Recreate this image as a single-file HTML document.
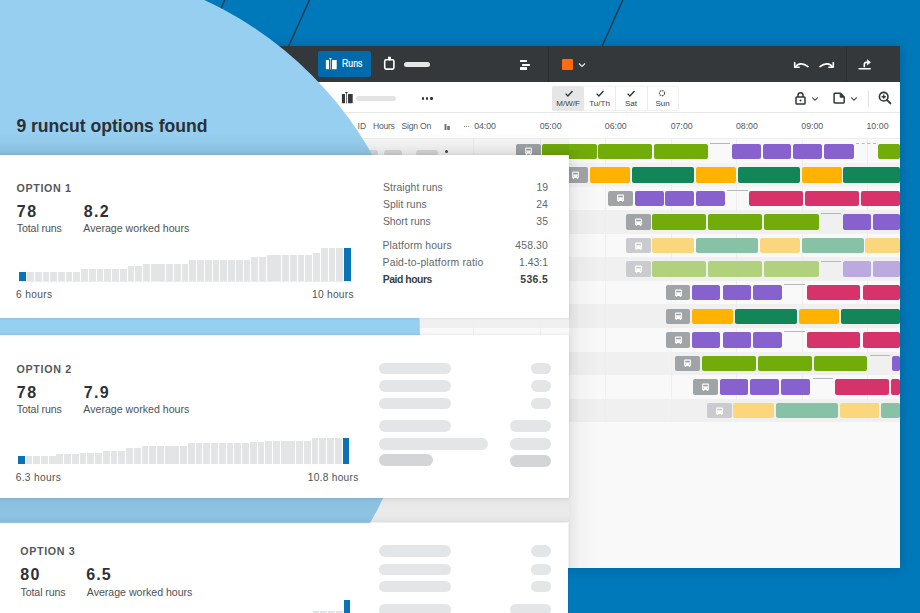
<!DOCTYPE html>
<html><head><meta charset="utf-8"><style>
html,body{margin:0;padding:0;}
body{width:920px;height:613px;position:relative;overflow:hidden;background:#0079ba;font-family:"Liberation Sans", sans-serif;}
.b,.t,.ic{position:absolute;}
.t{white-space:nowrap;}
</style></head><body>
<svg style="position:absolute;left:0;top:0" width="920" height="613" viewBox="0 0 920 613"><path d="M224.7 0L203 52M309.5 0L286 52M622.8 0L599.5 52" stroke="#1d3d56" stroke-width="1.6"/></svg>
<div class="b" style="left:230px;top:46px;width:670.2px;height:522.3px;background:#f9f9f9;box-shadow:0 0 12px rgba(0,20,50,.22);"></div>
<div class="b" style="left:230px;top:46px;width:670.2px;height:36px;background:#34383b;"></div>
<div class="b" style="left:230px;top:82px;width:670.2px;height:30.5px;background:#fff;"></div>
<div class="b" style="left:230px;top:112.2px;width:670.2px;height:0.8px;background:#e8e8e8;"></div>
<div class="b" style="left:230px;top:113px;width:670.2px;height:24.5px;background:#fff;"></div>
<div class="b" style="left:230px;top:137.6px;width:670.2px;height:1.9px;background:#eeeeee;"></div>
<div class="b" style="left:230px;top:139.5px;width:670.2px;height:23.56px;background:#f9f9f9;"></div>
<div class="b" style="left:230px;top:163.06px;width:670.2px;height:23.56px;background:#f3f3f3;"></div>
<div class="b" style="left:230px;top:186.62px;width:670.2px;height:23.56px;background:#f9f9f9;"></div>
<div class="b" style="left:230px;top:210.18px;width:670.2px;height:23.56px;background:#f0f0f0;"></div>
<div class="b" style="left:230px;top:233.74px;width:670.2px;height:23.56px;background:#f9f9f9;"></div>
<div class="b" style="left:230px;top:257.3px;width:670.2px;height:23.56px;background:#f0f0f0;"></div>
<div class="b" style="left:230px;top:280.86px;width:670.2px;height:23.56px;background:#f9f9f9;"></div>
<div class="b" style="left:230px;top:304.42px;width:670.2px;height:23.56px;background:#f0f0f0;"></div>
<div class="b" style="left:230px;top:327.98px;width:670.2px;height:23.56px;background:#f9f9f9;"></div>
<div class="b" style="left:230px;top:351.54px;width:670.2px;height:23.56px;background:#f0f0f0;"></div>
<div class="b" style="left:230px;top:375.1px;width:670.2px;height:23.56px;background:#f9f9f9;"></div>
<div class="b" style="left:230px;top:398.66px;width:670.2px;height:23.56px;background:#f0f0f0;"></div>
<div class="b" style="left:473.25px;top:137.5px;width:1px;height:284.7px;background:#eeeeee;"></div>
<div class="b" style="left:539.9px;top:137.5px;width:1px;height:284.7px;background:#eeeeee;"></div>
<div class="b" style="left:605px;top:137.5px;width:1px;height:284.7px;background:#eeeeee;"></div>
<div class="b" style="left:670.5px;top:137.5px;width:1px;height:284.7px;background:#eeeeee;"></div>
<div class="b" style="left:736px;top:137.5px;width:1px;height:284.7px;background:#eeeeee;"></div>
<div class="b" style="left:801.5px;top:137.5px;width:1px;height:284.7px;background:#eeeeee;"></div>
<div class="b" style="left:867px;top:137.5px;width:1px;height:284.7px;background:#eeeeee;"></div>
<div class="b" style="left:515.7px;top:143.6px;width:25.6px;height:15.5px;background:#a0a4a7;border-radius:2px"><svg width="7" height="8" viewBox="0 0 7 8" style="position:absolute;left:50%;top:50%;margin:-4px 0 0 -3.3px"><path d="M1 0.4h5a.9.9 0 0 1 .9.9v5.2a.5.5 0 0 1-.5.5H.6a.5.5 0 0 1-.5-.5V1.3A.9.9 0 0 1 1 .4z" fill="#fff"/><rect x="1.1" y="1.7" width="4.8" height="1.7" fill="#a0a4a7"/><rect x=".8" y="6.8" width="1.4" height="1.1" fill="#fff"/><rect x="4.8" y="6.8" width="1.4" height="1.1" fill="#fff"/><rect x="1" y="4.7" width="1" height=".7" fill="#a0a4a7"/><rect x="5" y="4.7" width="1" height=".7" fill="#a0a4a7"/></svg></div>
<div class="b" style="left:542.4px;top:143.6px;width:54.3px;height:15.5px;background:#72ac0a;border-radius:2px;"></div>
<div class="b" style="left:598.3px;top:143.6px;width:53.9px;height:15.5px;background:#72ac0a;border-radius:2px;"></div>
<div class="b" style="left:653.9px;top:143.6px;width:53.7px;height:15.5px;background:#72ac0a;border-radius:2px;"></div>
<div class="b" style="left:710px;top:142.7px;width:20.4px;height:1.1px;background:#b5b8ba;"></div>
<div class="b" style="left:732px;top:143.6px;width:28.8px;height:15.5px;background:#8762cf;border-radius:2px;"></div>
<div class="b" style="left:762.7px;top:143.6px;width:28.6px;height:15.5px;background:#8762cf;border-radius:2px;"></div>
<div class="b" style="left:793.2px;top:143.6px;width:29.3px;height:15.5px;background:#8762cf;border-radius:2px;"></div>
<div class="b" style="left:824.4px;top:143.6px;width:29.2px;height:15.5px;background:#8762cf;border-radius:2px;"></div>
<div class="b" style="left:856px;top:142.6px;width:19.7px;height:0;border-top:1.3px dashed #b9bbbd"></div>
<div class="b" style="left:877.6px;top:143.6px;width:22.6px;height:15.5px;background:#72ac0a;border-radius:2px;"></div>
<div class="b" style="left:562px;top:167.16px;width:26px;height:15.5px;background:#a0a4a7;border-radius:2px"><svg width="7" height="8" viewBox="0 0 7 8" style="position:absolute;left:50%;top:50%;margin:-4px 0 0 -3.3px"><path d="M1 0.4h5a.9.9 0 0 1 .9.9v5.2a.5.5 0 0 1-.5.5H.6a.5.5 0 0 1-.5-.5V1.3A.9.9 0 0 1 1 .4z" fill="#fff"/><rect x="1.1" y="1.7" width="4.8" height="1.7" fill="#a0a4a7"/><rect x=".8" y="6.8" width="1.4" height="1.1" fill="#fff"/><rect x="4.8" y="6.8" width="1.4" height="1.1" fill="#fff"/><rect x="1" y="4.7" width="1" height=".7" fill="#a0a4a7"/><rect x="5" y="4.7" width="1" height=".7" fill="#a0a4a7"/></svg></div>
<div class="b" style="left:589.7px;top:167.16px;width:39.9px;height:15.5px;background:#ffb300;border-radius:2px;"></div>
<div class="b" style="left:631.5px;top:167.16px;width:62.4px;height:15.5px;background:#128658;border-radius:2px;"></div>
<div class="b" style="left:695.8px;top:167.16px;width:39.9px;height:15.5px;background:#ffb300;border-radius:2px;"></div>
<div class="b" style="left:737.6px;top:167.16px;width:62px;height:15.5px;background:#128658;border-radius:2px;"></div>
<div class="b" style="left:801.5px;top:167.16px;width:40px;height:15.5px;background:#ffb300;border-radius:2px;"></div>
<div class="b" style="left:843.4px;top:167.16px;width:56.8px;height:15.5px;background:#128658;border-radius:2px;"></div>
<div class="b" style="left:608.3px;top:190.72px;width:24.7px;height:15.5px;background:#a0a4a7;border-radius:2px"><svg width="7" height="8" viewBox="0 0 7 8" style="position:absolute;left:50%;top:50%;margin:-4px 0 0 -3.3px"><path d="M1 0.4h5a.9.9 0 0 1 .9.9v5.2a.5.5 0 0 1-.5.5H.6a.5.5 0 0 1-.5-.5V1.3A.9.9 0 0 1 1 .4z" fill="#fff"/><rect x="1.1" y="1.7" width="4.8" height="1.7" fill="#a0a4a7"/><rect x=".8" y="6.8" width="1.4" height="1.1" fill="#fff"/><rect x="4.8" y="6.8" width="1.4" height="1.1" fill="#fff"/><rect x="1" y="4.7" width="1" height=".7" fill="#a0a4a7"/><rect x="5" y="4.7" width="1" height=".7" fill="#a0a4a7"/></svg></div>
<div class="b" style="left:635px;top:190.72px;width:28.5px;height:15.5px;background:#8762cf;border-radius:2px;"></div>
<div class="b" style="left:665.4px;top:190.72px;width:28.5px;height:15.5px;background:#8762cf;border-radius:2px;"></div>
<div class="b" style="left:695.8px;top:190.72px;width:29.7px;height:15.5px;background:#8762cf;border-radius:2px;"></div>
<div class="b" style="left:727.4px;top:189.82px;width:20.9px;height:1.1px;background:#b5b8ba;"></div>
<div class="b" style="left:749.4px;top:190.72px;width:54px;height:15.5px;background:#d6336b;border-radius:2px;"></div>
<div class="b" style="left:805.3px;top:190.72px;width:54.1px;height:15.5px;background:#d6336b;border-radius:2px;"></div>
<div class="b" style="left:861.3px;top:190.72px;width:38.9px;height:15.5px;background:#d6336b;border-radius:2px;"></div>
<div class="b" style="left:625.8px;top:214.28px;width:25.5px;height:15.5px;background:#a0a4a7;border-radius:2px"><svg width="7" height="8" viewBox="0 0 7 8" style="position:absolute;left:50%;top:50%;margin:-4px 0 0 -3.3px"><path d="M1 0.4h5a.9.9 0 0 1 .9.9v5.2a.5.5 0 0 1-.5.5H.6a.5.5 0 0 1-.5-.5V1.3A.9.9 0 0 1 1 .4z" fill="#fff"/><rect x="1.1" y="1.7" width="4.8" height="1.7" fill="#a0a4a7"/><rect x=".8" y="6.8" width="1.4" height="1.1" fill="#fff"/><rect x="4.8" y="6.8" width="1.4" height="1.1" fill="#fff"/><rect x="1" y="4.7" width="1" height=".7" fill="#a0a4a7"/><rect x="5" y="4.7" width="1" height=".7" fill="#a0a4a7"/></svg></div>
<div class="b" style="left:652.4px;top:214.28px;width:54px;height:15.5px;background:#72ac0a;border-radius:2px;"></div>
<div class="b" style="left:708.3px;top:214.28px;width:54.1px;height:15.5px;background:#72ac0a;border-radius:2px;"></div>
<div class="b" style="left:764.3px;top:214.28px;width:54.3px;height:15.5px;background:#72ac0a;border-radius:2px;"></div>
<div class="b" style="left:820.6px;top:213.38px;width:20.9px;height:1.1px;background:#b5b8ba;"></div>
<div class="b" style="left:842.6px;top:214.28px;width:28.5px;height:15.5px;background:#8762cf;border-radius:2px;"></div>
<div class="b" style="left:873px;top:214.28px;width:27.2px;height:15.5px;background:#8762cf;border-radius:2px;"></div>
<div class="b" style="left:625.8px;top:237.84px;width:25.5px;height:15.5px;background:#c9cbce;border-radius:2px"><svg width="7" height="8" viewBox="0 0 7 8" style="position:absolute;left:50%;top:50%;margin:-4px 0 0 -3.3px"><path d="M1 0.4h5a.9.9 0 0 1 .9.9v5.2a.5.5 0 0 1-.5.5H.6a.5.5 0 0 1-.5-.5V1.3A.9.9 0 0 1 1 .4z" fill="#fff"/><rect x="1.1" y="1.7" width="4.8" height="1.7" fill="#c9cbce"/><rect x=".8" y="6.8" width="1.4" height="1.1" fill="#fff"/><rect x="4.8" y="6.8" width="1.4" height="1.1" fill="#fff"/><rect x="1" y="4.7" width="1" height=".7" fill="#c9cbce"/><rect x="5" y="4.7" width="1" height=".7" fill="#c9cbce"/></svg></div>
<div class="b" style="left:652.4px;top:237.84px;width:41.5px;height:15.5px;background:#fad77c;border-radius:2px;"></div>
<div class="b" style="left:695.8px;top:237.84px;width:62px;height:15.5px;background:#88c2a6;border-radius:2px;"></div>
<div class="b" style="left:759.7px;top:237.84px;width:39.9px;height:15.5px;background:#fad77c;border-radius:2px;"></div>
<div class="b" style="left:801.5px;top:237.84px;width:62px;height:15.5px;background:#88c2a6;border-radius:2px;"></div>
<div class="b" style="left:865.4px;top:237.84px;width:34.8px;height:15.5px;background:#fad77c;border-radius:2px;"></div>
<div class="b" style="left:625.8px;top:261.4px;width:25.5px;height:15.5px;background:#c9cbce;border-radius:2px"><svg width="7" height="8" viewBox="0 0 7 8" style="position:absolute;left:50%;top:50%;margin:-4px 0 0 -3.3px"><path d="M1 0.4h5a.9.9 0 0 1 .9.9v5.2a.5.5 0 0 1-.5.5H.6a.5.5 0 0 1-.5-.5V1.3A.9.9 0 0 1 1 .4z" fill="#fff"/><rect x="1.1" y="1.7" width="4.8" height="1.7" fill="#c9cbce"/><rect x=".8" y="6.8" width="1.4" height="1.1" fill="#fff"/><rect x="4.8" y="6.8" width="1.4" height="1.1" fill="#fff"/><rect x="1" y="4.7" width="1" height=".7" fill="#c9cbce"/><rect x="5" y="4.7" width="1" height=".7" fill="#c9cbce"/></svg></div>
<div class="b" style="left:652.4px;top:261.4px;width:54px;height:15.5px;background:#b1d17d;border-radius:2px;"></div>
<div class="b" style="left:708.3px;top:261.4px;width:54.1px;height:15.5px;background:#b1d17d;border-radius:2px;"></div>
<div class="b" style="left:764.3px;top:261.4px;width:54.3px;height:15.5px;background:#b1d17d;border-radius:2px;"></div>
<div class="b" style="left:820.6px;top:260.5px;width:20.9px;height:1.1px;background:#b5b8ba;"></div>
<div class="b" style="left:842.6px;top:261.4px;width:28.5px;height:15.5px;background:#bba9e0;border-radius:2px;"></div>
<div class="b" style="left:873px;top:261.4px;width:27.2px;height:15.5px;background:#bba9e0;border-radius:2px;"></div>
<div class="b" style="left:665.7px;top:284.96px;width:24.8px;height:15.5px;background:#a0a4a7;border-radius:2px"><svg width="7" height="8" viewBox="0 0 7 8" style="position:absolute;left:50%;top:50%;margin:-4px 0 0 -3.3px"><path d="M1 0.4h5a.9.9 0 0 1 .9.9v5.2a.5.5 0 0 1-.5.5H.6a.5.5 0 0 1-.5-.5V1.3A.9.9 0 0 1 1 .4z" fill="#fff"/><rect x="1.1" y="1.7" width="4.8" height="1.7" fill="#a0a4a7"/><rect x=".8" y="6.8" width="1.4" height="1.1" fill="#fff"/><rect x="4.8" y="6.8" width="1.4" height="1.1" fill="#fff"/><rect x="1" y="4.7" width="1" height=".7" fill="#a0a4a7"/><rect x="5" y="4.7" width="1" height=".7" fill="#a0a4a7"/></svg></div>
<div class="b" style="left:692.4px;top:284.96px;width:28.1px;height:15.5px;background:#8762cf;border-radius:2px;"></div>
<div class="b" style="left:722.8px;top:284.96px;width:28.2px;height:15.5px;background:#8762cf;border-radius:2px;"></div>
<div class="b" style="left:753.2px;top:284.96px;width:29.3px;height:15.5px;background:#8762cf;border-radius:2px;"></div>
<div class="b" style="left:784.4px;top:284.06px;width:20.9px;height:1.1px;background:#b5b8ba;"></div>
<div class="b" style="left:807.2px;top:284.96px;width:53.3px;height:15.5px;background:#d6336b;border-radius:2px;"></div>
<div class="b" style="left:863.2px;top:284.96px;width:37px;height:15.5px;background:#d6336b;border-radius:2px;"></div>
<div class="b" style="left:665.7px;top:308.52px;width:24.8px;height:15.5px;background:#a0a4a7;border-radius:2px"><svg width="7" height="8" viewBox="0 0 7 8" style="position:absolute;left:50%;top:50%;margin:-4px 0 0 -3.3px"><path d="M1 0.4h5a.9.9 0 0 1 .9.9v5.2a.5.5 0 0 1-.5.5H.6a.5.5 0 0 1-.5-.5V1.3A.9.9 0 0 1 1 .4z" fill="#fff"/><rect x="1.1" y="1.7" width="4.8" height="1.7" fill="#a0a4a7"/><rect x=".8" y="6.8" width="1.4" height="1.1" fill="#fff"/><rect x="4.8" y="6.8" width="1.4" height="1.1" fill="#fff"/><rect x="1" y="4.7" width="1" height=".7" fill="#a0a4a7"/><rect x="5" y="4.7" width="1" height=".7" fill="#a0a4a7"/></svg></div>
<div class="b" style="left:692.4px;top:308.52px;width:40.6px;height:15.5px;background:#ffb300;border-radius:2px;"></div>
<div class="b" style="left:735px;top:308.52px;width:61.6px;height:15.5px;background:#128658;border-radius:2px;"></div>
<div class="b" style="left:798.5px;top:308.52px;width:40.3px;height:15.5px;background:#ffb300;border-radius:2px;"></div>
<div class="b" style="left:840.7px;top:308.52px;width:59.5px;height:15.5px;background:#128658;border-radius:2px;"></div>
<div class="b" style="left:665.7px;top:332.08px;width:24.8px;height:15.5px;background:#a0a4a7;border-radius:2px"><svg width="7" height="8" viewBox="0 0 7 8" style="position:absolute;left:50%;top:50%;margin:-4px 0 0 -3.3px"><path d="M1 0.4h5a.9.9 0 0 1 .9.9v5.2a.5.5 0 0 1-.5.5H.6a.5.5 0 0 1-.5-.5V1.3A.9.9 0 0 1 1 .4z" fill="#fff"/><rect x="1.1" y="1.7" width="4.8" height="1.7" fill="#a0a4a7"/><rect x=".8" y="6.8" width="1.4" height="1.1" fill="#fff"/><rect x="4.8" y="6.8" width="1.4" height="1.1" fill="#fff"/><rect x="1" y="4.7" width="1" height=".7" fill="#a0a4a7"/><rect x="5" y="4.7" width="1" height=".7" fill="#a0a4a7"/></svg></div>
<div class="b" style="left:692.4px;top:332.08px;width:28.1px;height:15.5px;background:#8762cf;border-radius:2px;"></div>
<div class="b" style="left:722.8px;top:332.08px;width:28.2px;height:15.5px;background:#8762cf;border-radius:2px;"></div>
<div class="b" style="left:753.2px;top:332.08px;width:29.3px;height:15.5px;background:#8762cf;border-radius:2px;"></div>
<div class="b" style="left:784.4px;top:331.18px;width:20.9px;height:1.1px;background:#b5b8ba;"></div>
<div class="b" style="left:807.2px;top:332.08px;width:53.3px;height:15.5px;background:#d6336b;border-radius:2px;"></div>
<div class="b" style="left:863.2px;top:332.08px;width:37px;height:15.5px;background:#d6336b;border-radius:2px;"></div>
<div class="b" style="left:675.3px;top:355.64px;width:24.7px;height:15.5px;background:#a0a4a7;border-radius:2px"><svg width="7" height="8" viewBox="0 0 7 8" style="position:absolute;left:50%;top:50%;margin:-4px 0 0 -3.3px"><path d="M1 0.4h5a.9.9 0 0 1 .9.9v5.2a.5.5 0 0 1-.5.5H.6a.5.5 0 0 1-.5-.5V1.3A.9.9 0 0 1 1 .4z" fill="#fff"/><rect x="1.1" y="1.7" width="4.8" height="1.7" fill="#a0a4a7"/><rect x=".8" y="6.8" width="1.4" height="1.1" fill="#fff"/><rect x="4.8" y="6.8" width="1.4" height="1.1" fill="#fff"/><rect x="1" y="4.7" width="1" height=".7" fill="#a0a4a7"/><rect x="5" y="4.7" width="1" height=".7" fill="#a0a4a7"/></svg></div>
<div class="b" style="left:701.9px;top:355.64px;width:54px;height:15.5px;background:#72ac0a;border-radius:2px;"></div>
<div class="b" style="left:757.8px;top:355.64px;width:54px;height:15.5px;background:#72ac0a;border-radius:2px;"></div>
<div class="b" style="left:813.7px;top:355.64px;width:53.6px;height:15.5px;background:#72ac0a;border-radius:2px;"></div>
<div class="b" style="left:870px;top:354.74px;width:20px;height:1.1px;background:#b5b8ba;"></div>
<div class="b" style="left:891.7px;top:355.64px;width:8.5px;height:15.5px;background:#8762cf;border-radius:2px;"></div>
<div class="b" style="left:693.1px;top:379.2px;width:24.8px;height:15.5px;background:#a0a4a7;border-radius:2px"><svg width="7" height="8" viewBox="0 0 7 8" style="position:absolute;left:50%;top:50%;margin:-4px 0 0 -3.3px"><path d="M1 0.4h5a.9.9 0 0 1 .9.9v5.2a.5.5 0 0 1-.5.5H.6a.5.5 0 0 1-.5-.5V1.3A.9.9 0 0 1 1 .4z" fill="#fff"/><rect x="1.1" y="1.7" width="4.8" height="1.7" fill="#a0a4a7"/><rect x=".8" y="6.8" width="1.4" height="1.1" fill="#fff"/><rect x="4.8" y="6.8" width="1.4" height="1.1" fill="#fff"/><rect x="1" y="4.7" width="1" height=".7" fill="#a0a4a7"/><rect x="5" y="4.7" width="1" height=".7" fill="#a0a4a7"/></svg></div>
<div class="b" style="left:719.8px;top:379.2px;width:28.5px;height:15.5px;background:#8762cf;border-radius:2px;"></div>
<div class="b" style="left:750.2px;top:379.2px;width:29.3px;height:15.5px;background:#8762cf;border-radius:2px;"></div>
<div class="b" style="left:781.4px;top:379.2px;width:28.9px;height:15.5px;background:#8762cf;border-radius:2px;"></div>
<div class="b" style="left:813px;top:378.3px;width:20px;height:1.1px;background:#b5b8ba;"></div>
<div class="b" style="left:834.6px;top:379.2px;width:54.4px;height:15.5px;background:#d6336b;border-radius:2px;"></div>
<div class="b" style="left:891px;top:379.2px;width:9.2px;height:15.5px;background:#d6336b;border-radius:2px;"></div>
<div class="b" style="left:707.2px;top:402.76px;width:24.8px;height:15.5px;background:#c9cbce;border-radius:2px"><svg width="7" height="8" viewBox="0 0 7 8" style="position:absolute;left:50%;top:50%;margin:-4px 0 0 -3.3px"><path d="M1 0.4h5a.9.9 0 0 1 .9.9v5.2a.5.5 0 0 1-.5.5H.6a.5.5 0 0 1-.5-.5V1.3A.9.9 0 0 1 1 .4z" fill="#fff"/><rect x="1.1" y="1.7" width="4.8" height="1.7" fill="#c9cbce"/><rect x=".8" y="6.8" width="1.4" height="1.1" fill="#fff"/><rect x="4.8" y="6.8" width="1.4" height="1.1" fill="#fff"/><rect x="1" y="4.7" width="1" height=".7" fill="#c9cbce"/><rect x="5" y="4.7" width="1" height=".7" fill="#c9cbce"/></svg></div>
<div class="b" style="left:733px;top:402.76px;width:40.8px;height:15.5px;background:#fad77c;border-radius:2px;"></div>
<div class="b" style="left:775.7px;top:402.76px;width:62px;height:15.5px;background:#88c2a6;border-radius:2px;"></div>
<div class="b" style="left:839.6px;top:402.76px;width:39.9px;height:15.5px;background:#fad77c;border-radius:2px;"></div>
<div class="b" style="left:881.4px;top:402.76px;width:18.8px;height:15.5px;background:#88c2a6;border-radius:2px;"></div>
<div class="b" style="left:366px;top:150px;width:11.5px;height:6px;background:#dcdcdc;border-radius:3px;"></div>
<div class="b" style="left:383.8px;top:150px;width:18.7px;height:6px;background:#dcdcdc;border-radius:3px;"></div>
<div class="b" style="left:416px;top:150px;width:21.5px;height:6px;background:#dcdcdc;border-radius:3px;"></div>
<div class="b" style="left:444.5px;top:150px;width:3px;height:3px;background:#444;border-radius:2px;"></div>
<div class="b" style="left:318.2px;top:51.4px;width:53.3px;height:26px;background:#006aaa;border-radius:2.5px;"></div>
<svg class="ic" style="left:325px;top:57px" width="13" height="13" viewBox="0 0 13 13"><rect x=".9" y="2.9" width="3.1" height="9.4" rx=".6" fill="#fff"/><rect x="7" y="2.9" width="4.7" height="9.4" rx=".6" fill="#fff"/><rect x="5" y="1.6" width=".75" height="10.9" fill="#cfe6f5"/><path d="M3.9 1h3l-1.5 2z" fill="#d8eefc"/></svg>
<div class="t" style="left:341.97px;top:59.1px;font-size:10.4px;line-height:10.4px;color:#fff;font-weight:400;transform:scaleX(.84);transform-origin:0 0;-webkit-text-stroke:.2px #fff;">Runs</div>
<svg class="ic" style="left:383px;top:56px" width="14" height="16" viewBox="0 0 14 16"><rect x="1.7" y="3.8" width="9.2" height="9.3" rx="1.5" fill="none" stroke="#fff" stroke-width="1.6"/><path d="M5 .7h3v2.6L6.5 4.8 5 3.3z" fill="#fff"/></svg>
<div class="b" style="left:404.4px;top:62px;width:25.7px;height:5.3px;background:#e6e6e6;border-radius:3px;"></div>
<div class="b" style="left:519.8px;top:59.7px;width:7.4px;height:2.2px;background:#fff;border-radius:0.5px;"></div>
<div class="b" style="left:522.3px;top:63.5px;width:8.1px;height:2.3px;background:#fff;border-radius:0.5px;"></div>
<div class="b" style="left:519.8px;top:67.3px;width:7.4px;height:2.3px;background:#fff;border-radius:0.5px;"></div>
<div class="b" style="left:548.4px;top:47px;width:1px;height:35px;background:#2a2d30;"></div>
<div class="b" style="left:562px;top:59.1px;width:10.8px;height:10.9px;background:#ff6a13;border-radius:1px;"></div>
<svg class="ic" style="left:578px;top:62px" width="8" height="6" viewBox="0 0 8 6"><path d="M1 1.5l3 3 3-3" fill="none" stroke="#e8e8e8" stroke-width="1.2"/></svg>
<svg class="ic" style="left:792px;top:58px" width="18" height="12" viewBox="0 0 18 12"><path d="M3.6 8.8C5.8 5.2 11.2 4.6 16 8.6" fill="none" stroke="#fff" stroke-width="1.6" stroke-linecap="round"/><path d="M2.7 4.6v4.6h4.4" fill="none" stroke="#fff" stroke-width="1.6" stroke-linecap="round" stroke-linejoin="round"/></svg>
<svg class="ic" style="left:818px;top:58px" width="18" height="12" viewBox="0 0 18 12"><path d="M14.4 8.8C12.2 5.2 6.8 4.6 2 8.6" fill="none" stroke="#fff" stroke-width="1.6" stroke-linecap="round"/><path d="M15.3 4.6v4.6h-4.4" fill="none" stroke="#fff" stroke-width="1.6" stroke-linecap="round" stroke-linejoin="round"/></svg>
<div class="b" style="left:846.2px;top:47px;width:1px;height:35px;background:#2c2f32;"></div>
<svg class="ic" style="left:857px;top:58px" width="15" height="13" viewBox="0 0 15 13"><path d="M2 10.8h11.2" stroke="#fff" stroke-width="1.4" stroke-linecap="round"/><path d="M7.3 9.2V6.6c0-1.6.8-2.3 2.3-2.3h1.2" fill="none" stroke="#fff" stroke-width="1.6"/><path d="M10.3 1.7l3.2 2.6-3.2 2.6z" fill="#fff" stroke="#fff" stroke-width=".6" stroke-linejoin="round"/></svg>
<svg class="ic" style="left:340.5px;top:90.5px" width="13" height="13" viewBox="0 0 13 13"><rect x=".9" y="2.9" width="3.1" height="9.4" rx=".5" fill="#34383c"/><rect x="7" y="2.9" width="4.7" height="9.4" rx=".5" fill="#34383c"/><rect x="5" y="1.6" width=".8" height="10.9" fill="#555"/><path d="M3.9 1h3l-1.5 2z" fill="#34383c"/></svg>
<div class="b" style="left:356.3px;top:95.8px;width:39.7px;height:5.7px;background:#e3e3e3;border-radius:3px;"></div>
<div class="b" style="left:421.8px;top:97px;width:2.6px;height:2.6px;background:#2f3336;border-radius:1.3px;"></div>
<div class="b" style="left:425.9px;top:97px;width:2.6px;height:2.6px;background:#2f3336;border-radius:1.3px;"></div>
<div class="b" style="left:430px;top:97px;width:2.6px;height:2.6px;background:#2f3336;border-radius:1.3px;"></div>
<div class="b" style="left:552.2px;top:86px;width:126.4px;height:24.5px;background:#fff;border-radius:2px;box-shadow:0 0 0 0.8px #ececec inset;"></div>
<div class="b" style="left:552.2px;top:86px;width:31.8px;height:24.5px;background:#e6e6e6;border-radius:2px;"></div>
<div class="b" style="left:615.2px;top:87px;width:0.8px;height:23px;background:#ececec;"></div>
<div class="b" style="left:646.5px;top:87px;width:0.8px;height:23px;background:#ececec;"></div>
<svg class="ic" style="left:563.5px;top:88.5px" width="10" height="9" viewBox="0 0 10 9"><path d="M1.6 4.6l2.3 2.4 4.6-5" fill="none" stroke="#2f3336" stroke-width="1.35"/></svg>
<svg class="ic" style="left:594.8px;top:88.5px" width="10" height="9" viewBox="0 0 10 9"><path d="M1.6 4.6l2.3 2.4 4.6-5" fill="none" stroke="#2f3336" stroke-width="1.35"/></svg>
<svg class="ic" style="left:626.2px;top:88.5px" width="10" height="9" viewBox="0 0 10 9"><path d="M1.6 4.6l2.3 2.4 4.6-5" fill="none" stroke="#2f3336" stroke-width="1.35"/></svg>
<svg class="ic" style="left:657px;top:88.5px" width="10" height="9" viewBox="0 0 10 9"><circle cx="5" cy="4.2" r="2.6" fill="none" stroke="#555" stroke-width="1.2" stroke-dasharray="1.6 .8"/></svg>
<div class="t" style="left:548.1px;width:40px;text-align:center;top:100.33px;font-size:8px;line-height:8px;color:#3a3e42">M/W/F</div>
<div class="t" style="left:579.6px;width:40px;text-align:center;top:100.33px;font-size:8px;line-height:8px;color:#3a3e42">Tu/Th</div>
<div class="t" style="left:611px;width:40px;text-align:center;top:100.33px;font-size:8px;line-height:8px;color:#3a3e42">Sat</div>
<div class="t" style="left:642.5px;width:40px;text-align:center;top:100.33px;font-size:8px;line-height:8px;color:#3a3e42">Sun</div>
<svg class="ic" style="left:793.5px;top:90.6px" width="13" height="14" viewBox="0 0 13 14"><rect x="2" y="6" width="9" height="7" rx=".8" fill="none" stroke="#33373b" stroke-width="1.5"/><path d="M4 6V4.3a2.5 2.5 0 0 1 5 0V6" fill="none" stroke="#33373b" stroke-width="1.5"/><circle cx="6.5" cy="9.5" r="1" fill="#33373b"/></svg>
<svg class="ic" style="left:810.5px;top:95.5px" width="8" height="6" viewBox="0 0 8 6"><path d="M1.3 1.5l2.7 2.7 2.7-2.7" fill="none" stroke="#555" stroke-width="1.1"/></svg>
<svg class="ic" style="left:833px;top:92px" width="13" height="12" viewBox="0 0 13 12"><path d="M1.8 1.3h5.7l3.7 3.7v5.2a.7.7 0 0 1-.7.7H1.8a.7.7 0 0 1-.7-.7V2a.7.7 0 0 1 .7-.7z" fill="none" stroke="#33373b" stroke-width="1.5" stroke-linejoin="round"/><path d="M7.2 1.3v3.9h3.9" fill="#33373b" stroke="#33373b" stroke-width="1"/></svg>
<svg class="ic" style="left:849.5px;top:95.5px" width="8" height="6" viewBox="0 0 8 6"><path d="M1.3 1.5l2.7 2.7 2.7-2.7" fill="none" stroke="#555" stroke-width="1.1"/></svg>
<div class="b" style="left:868.3px;top:91px;width:0.8px;height:16px;background:#e2e2e2;"></div>
<svg class="ic" style="left:878px;top:90.7px" width="14" height="14" viewBox="0 0 14 14"><circle cx="5.7" cy="5.7" r="4.3" fill="none" stroke="#33373b" stroke-width="1.6"/><path d="M8.8 8.8l3.6 3.6" stroke="#33373b" stroke-width="1.9" stroke-linecap="round"/><path d="M5.7 3.6v4.2M3.6 5.7h4.2" stroke="#33373b" stroke-width="1.4"/></svg>
<div class="t" style="left:357.53px;top:122.12px;font-size:8.6px;line-height:8.6px;color:#575b5f;font-weight:400;">ID</div>
<div class="t" style="left:373.11px;top:122.12px;font-size:8.6px;line-height:8.6px;color:#575b5f;font-weight:400;letter-spacing:-0.32px;">Hours</div>
<div class="t" style="left:401.61px;top:122.12px;font-size:8.6px;line-height:8.6px;color:#575b5f;font-weight:400;letter-spacing:-0.22px;">Sign On</div>
<svg class="ic" style="left:443.5px;top:123px" width="7" height="7" viewBox="0 0 7 7"><rect x=".5" y="1" width="2" height="6" fill="#777"/><rect x="3.2" y="3" width="2.6" height="4" fill="#777"/></svg>
<div class="b" style="left:463.8px;top:126.3px;width:1.2px;height:1.2px;background:#666;border-radius:0.6px;"></div>
<div class="b" style="left:465.9px;top:126.3px;width:1.2px;height:1.2px;background:#666;border-radius:0.6px;"></div>
<div class="b" style="left:468px;top:126.3px;width:1.2px;height:1.2px;background:#666;border-radius:0.6px;"></div>
<div class="t" style="left:474.15px;top:122.05px;font-size:8.8px;line-height:8.8px;color:#575b5f;font-weight:400;letter-spacing:-0.04px;">04:00</div>
<div class="t" style="left:539.65px;top:122.05px;font-size:8.8px;line-height:8.8px;color:#575b5f;font-weight:400;letter-spacing:-0.03px;">05:00</div>
<div class="t" style="left:604.85px;top:122.05px;font-size:8.8px;line-height:8.8px;color:#575b5f;font-weight:400;letter-spacing:-0.03px;">06:00</div>
<div class="t" style="left:670.75px;top:122.05px;font-size:8.8px;line-height:8.8px;color:#575b5f;font-weight:400;letter-spacing:-0.03px;">07:00</div>
<div class="t" style="left:735.95px;top:122.05px;font-size:8.8px;line-height:8.8px;color:#575b5f;font-weight:400;letter-spacing:-0.03px;">08:00</div>
<div class="t" style="left:801.35px;top:122.05px;font-size:8.8px;line-height:8.8px;color:#575b5f;font-weight:400;letter-spacing:-0.03px;">09:00</div>
<div class="t" style="left:866.44px;top:122.05px;font-size:8.8px;line-height:8.8px;color:#575b5f;font-weight:400;letter-spacing:0.04px;">10:00</div>
<div class="b" style="left:-322.25px;top:-34px;width:741.8px;height:741.8px;border-radius:50%;background:#97cff0"></div>
<div class="t" style="left:16.38px;top:117.7px;font-size:17.6px;line-height:17.6px;color:#2b3035;font-weight:700;letter-spacing:-0.02px;">9 runcut options found</div>
<div class="b" style="left:568.5px;top:150px;width:31.5px;height:418.3px;background:linear-gradient(to right, rgba(0,0,0,.08), rgba(0,0,0,.025) 35%, rgba(0,0,0,0));"></div>
<div class="b" style="left:-10px;top:498.3px;width:579px;height:24.2px;background:linear-gradient(to bottom, rgba(0,0,0,.1), rgba(0,0,0,.065) 25%, rgba(0,0,0,.06) 70%, rgba(0,0,0,.09));"></div>
<div class="b" style="left:-10px;top:133px;width:578.5px;height:22.2px;background:linear-gradient(to bottom, rgba(0,0,0,0), rgba(0,0,0,.035) 50%, rgba(0,0,0,.1));"></div>
<div class="b" style="left:-10px;top:155px;width:578.5px;height:163.2px;background:#fff;border-radius:1px;box-shadow:0 0 3px rgba(0,0,0,.12);"></div>
<div class="b" style="left:-10px;top:335.3px;width:579px;height:163px;background:#fff;border-radius:1px;box-shadow:0 0 3px rgba(0,0,0,.12);"></div>
<div class="b" style="left:-10px;top:522.5px;width:577.8px;height:117.5px;background:#fff;border-radius:1px;box-shadow:0 0 3px rgba(0,0,0,.12);"></div>
<div class="t" style="left:16.57px;top:183.14px;font-size:10.7px;line-height:10.7px;color:#53585c;font-weight:700;letter-spacing:0.65px;">OPTION 1</div>
<div class="t" style="left:16.76px;top:203.66px;font-size:16px;line-height:16px;color:#2d3236;font-weight:700;letter-spacing:1.5px;">78</div>
<div class="t" style="left:83.82px;top:203.66px;font-size:16px;line-height:16px;color:#2d3236;font-weight:700;letter-spacing:1.29px;">8.2</div>
<div class="t" style="left:16.79px;top:223.23px;font-size:10.6px;line-height:10.6px;color:#4d5256;font-weight:400;letter-spacing:-0.1px;">Total runs</div>
<div class="t" style="left:83.3px;top:223.23px;font-size:10.6px;line-height:10.6px;color:#4d5256;font-weight:400;letter-spacing:0.01px;">Average worked hours</div>
<div class="b" style="left:19.3px;top:271.5px;width:6.8px;height:9.8px;background:#0a73b6;"></div>
<div class="b" style="left:27.03px;top:272px;width:6.8px;height:9.3px;background:#e3e4e5;"></div>
<div class="b" style="left:34.77px;top:272px;width:6.8px;height:9.3px;background:#e3e4e5;"></div>
<div class="b" style="left:42.5px;top:272px;width:6.8px;height:9.3px;background:#e3e4e5;"></div>
<div class="b" style="left:50.23px;top:272px;width:6.8px;height:9.3px;background:#e3e4e5;"></div>
<div class="b" style="left:57.97px;top:272px;width:6.8px;height:9.3px;background:#e3e4e5;"></div>
<div class="b" style="left:65.7px;top:272px;width:6.8px;height:9.3px;background:#e3e4e5;"></div>
<div class="b" style="left:73.43px;top:272px;width:6.8px;height:9.3px;background:#e3e4e5;"></div>
<div class="b" style="left:81.16px;top:269.3px;width:6.8px;height:12px;background:#e3e4e5;"></div>
<div class="b" style="left:88.9px;top:269.3px;width:6.8px;height:12px;background:#e3e4e5;"></div>
<div class="b" style="left:96.63px;top:269.3px;width:6.8px;height:12px;background:#e3e4e5;"></div>
<div class="b" style="left:104.36px;top:269.3px;width:6.8px;height:12px;background:#e3e4e5;"></div>
<div class="b" style="left:112.1px;top:269.3px;width:6.8px;height:12px;background:#e3e4e5;"></div>
<div class="b" style="left:119.83px;top:269.3px;width:6.8px;height:12px;background:#e3e4e5;"></div>
<div class="b" style="left:127.56px;top:266.4px;width:6.8px;height:14.9px;background:#e3e4e5;"></div>
<div class="b" style="left:135.29px;top:266.4px;width:6.8px;height:14.9px;background:#e3e4e5;"></div>
<div class="b" style="left:143.03px;top:264px;width:6.8px;height:17.3px;background:#e3e4e5;"></div>
<div class="b" style="left:150.76px;top:264px;width:6.8px;height:17.3px;background:#e3e4e5;"></div>
<div class="b" style="left:158.49px;top:264px;width:6.8px;height:17.3px;background:#e3e4e5;"></div>
<div class="b" style="left:166.23px;top:264px;width:6.8px;height:17.3px;background:#e3e4e5;"></div>
<div class="b" style="left:173.96px;top:264px;width:6.8px;height:17.3px;background:#e3e4e5;"></div>
<div class="b" style="left:181.69px;top:264px;width:6.8px;height:17.3px;background:#e3e4e5;"></div>
<div class="b" style="left:189.43px;top:260.4px;width:6.8px;height:20.9px;background:#e3e4e5;"></div>
<div class="b" style="left:197.16px;top:260.4px;width:6.8px;height:20.9px;background:#e3e4e5;"></div>
<div class="b" style="left:204.89px;top:260.4px;width:6.8px;height:20.9px;background:#e3e4e5;"></div>
<div class="b" style="left:212.62px;top:260.4px;width:6.8px;height:20.9px;background:#e3e4e5;"></div>
<div class="b" style="left:220.36px;top:260.4px;width:6.8px;height:20.9px;background:#e3e4e5;"></div>
<div class="b" style="left:228.09px;top:260.4px;width:6.8px;height:20.9px;background:#e3e4e5;"></div>
<div class="b" style="left:235.82px;top:260.4px;width:6.8px;height:20.9px;background:#e3e4e5;"></div>
<div class="b" style="left:243.56px;top:260.4px;width:6.8px;height:20.9px;background:#e3e4e5;"></div>
<div class="b" style="left:251.29px;top:257.2px;width:6.8px;height:24.1px;background:#e3e4e5;"></div>
<div class="b" style="left:259.02px;top:257.2px;width:6.8px;height:24.1px;background:#e3e4e5;"></div>
<div class="b" style="left:266.76px;top:254.7px;width:6.8px;height:26.6px;background:#e3e4e5;"></div>
<div class="b" style="left:274.49px;top:254.7px;width:6.8px;height:26.6px;background:#e3e4e5;"></div>
<div class="b" style="left:282.22px;top:254.7px;width:6.8px;height:26.6px;background:#e3e4e5;"></div>
<div class="b" style="left:289.95px;top:254.7px;width:6.8px;height:26.6px;background:#e3e4e5;"></div>
<div class="b" style="left:297.69px;top:254.7px;width:6.8px;height:26.6px;background:#e3e4e5;"></div>
<div class="b" style="left:305.42px;top:254.7px;width:6.8px;height:26.6px;background:#e3e4e5;"></div>
<div class="b" style="left:313.15px;top:253.1px;width:6.8px;height:28.2px;background:#e3e4e5;"></div>
<div class="b" style="left:320.89px;top:248.4px;width:6.8px;height:32.9px;background:#e3e4e5;"></div>
<div class="b" style="left:328.62px;top:248.4px;width:6.8px;height:32.9px;background:#e3e4e5;"></div>
<div class="b" style="left:336.35px;top:248.4px;width:6.8px;height:32.9px;background:#e3e4e5;"></div>
<div class="b" style="left:344.09px;top:248.4px;width:6.8px;height:32.9px;background:#0a73b6;"></div>
<div class="b" style="left:19px;top:281.3px;width:332px;height:0.7px;background:#eeeeee;"></div>
<div class="t" style="left:16.09px;top:289.87px;font-size:10.2px;line-height:10.2px;color:#4d5256;font-weight:400;letter-spacing:0.36px;">6 hours</div>
<div class="t" style="left:311.94px;top:289.87px;font-size:10.2px;line-height:10.2px;color:#4d5256;font-weight:400;letter-spacing:0.28px;">10 hours</div>
<div class="t" style="left:382.93px;top:183.4px;font-size:10.4px;line-height:10.4px;color:#62676b;font-weight:400;letter-spacing:0.08px;">Straight runs</div>
<div class="t" style="left:536.42px;top:183.4px;font-size:10.4px;line-height:10.4px;color:#62676b;font-weight:400;">19</div>
<div class="t" style="left:382.93px;top:200.2px;font-size:10.4px;line-height:10.4px;color:#62676b;font-weight:400;letter-spacing:0.05px;">Split runs</div>
<div class="t" style="left:536.27px;top:200.2px;font-size:10.4px;line-height:10.4px;color:#62676b;font-weight:400;">24</div>
<div class="t" style="left:382.93px;top:217.3px;font-size:10.4px;line-height:10.4px;color:#62676b;font-weight:400;letter-spacing:-0.03px;">Short runs</div>
<div class="t" style="left:536.37px;top:217.3px;font-size:10.4px;line-height:10.4px;color:#62676b;font-weight:400;">35</div>
<div class="t" style="left:382.57px;top:241px;font-size:10.4px;line-height:10.4px;color:#62676b;font-weight:400;letter-spacing:0.13px;">Platform hours</div>
<div class="t" style="left:515.29px;top:241px;font-size:10.4px;line-height:10.4px;color:#62676b;font-weight:400;letter-spacing:0.15px;">458.30</div>
<div class="t" style="left:382.57px;top:258.3px;font-size:10.4px;line-height:10.4px;color:#62676b;font-weight:400;letter-spacing:0.18px;">Paid-to-platform ratio</div>
<div class="t" style="left:519.06px;top:258.3px;font-size:10.4px;line-height:10.4px;color:#62676b;font-weight:400;">1.43:1</div>
<div class="t" style="left:382.72px;top:275.2px;font-size:10.4px;line-height:10.4px;color:#3a3f43;font-weight:700;letter-spacing:-0.45px;">Paid hours</div>
<div class="t" style="left:520.36px;top:275.2px;font-size:10.4px;line-height:10.4px;color:#3a3f43;font-weight:700;letter-spacing:0.35px;">536.5</div>
<div class="t" style="left:16.57px;top:364.14px;font-size:10.7px;line-height:10.7px;color:#53585c;font-weight:700;letter-spacing:0.68px;">OPTION 2</div>
<div class="t" style="left:16.76px;top:384.66px;font-size:16px;line-height:16px;color:#2d3236;font-weight:700;letter-spacing:1.5px;">78</div>
<div class="t" style="left:83.66px;top:384.66px;font-size:16px;line-height:16px;color:#2d3236;font-weight:700;letter-spacing:1.33px;">7.9</div>
<div class="t" style="left:16.79px;top:404.23px;font-size:10.6px;line-height:10.6px;color:#4d5256;font-weight:400;letter-spacing:-0.1px;">Total runs</div>
<div class="t" style="left:83.3px;top:404.23px;font-size:10.6px;line-height:10.6px;color:#4d5256;font-weight:400;letter-spacing:0.01px;">Average worked hours</div>
<div class="b" style="left:17.8px;top:455.6px;width:6.8px;height:8.2px;background:#0a73b6;"></div>
<div class="b" style="left:25.53px;top:456px;width:6.8px;height:7.8px;background:#e3e4e5;"></div>
<div class="b" style="left:33.27px;top:456px;width:6.8px;height:7.8px;background:#e3e4e5;"></div>
<div class="b" style="left:41px;top:456px;width:6.8px;height:7.8px;background:#e3e4e5;"></div>
<div class="b" style="left:48.73px;top:456px;width:6.8px;height:7.8px;background:#e3e4e5;"></div>
<div class="b" style="left:56.47px;top:453.9px;width:6.8px;height:9.9px;background:#e3e4e5;"></div>
<div class="b" style="left:64.2px;top:453.9px;width:6.8px;height:9.9px;background:#e3e4e5;"></div>
<div class="b" style="left:71.93px;top:453.9px;width:6.8px;height:9.9px;background:#e3e4e5;"></div>
<div class="b" style="left:79.66px;top:452.5px;width:6.8px;height:11.3px;background:#e3e4e5;"></div>
<div class="b" style="left:87.4px;top:452.5px;width:6.8px;height:11.3px;background:#e3e4e5;"></div>
<div class="b" style="left:95.13px;top:452.5px;width:6.8px;height:11.3px;background:#e3e4e5;"></div>
<div class="b" style="left:102.86px;top:450.8px;width:6.8px;height:13px;background:#e3e4e5;"></div>
<div class="b" style="left:110.6px;top:450.8px;width:6.8px;height:13px;background:#e3e4e5;"></div>
<div class="b" style="left:118.33px;top:450.8px;width:6.8px;height:13px;background:#e3e4e5;"></div>
<div class="b" style="left:126.06px;top:448.3px;width:6.8px;height:15.5px;background:#e3e4e5;"></div>
<div class="b" style="left:133.79px;top:448.3px;width:6.8px;height:15.5px;background:#e3e4e5;"></div>
<div class="b" style="left:141.53px;top:446px;width:6.8px;height:17.8px;background:#e3e4e5;"></div>
<div class="b" style="left:149.26px;top:446px;width:6.8px;height:17.8px;background:#e3e4e5;"></div>
<div class="b" style="left:156.99px;top:446px;width:6.8px;height:17.8px;background:#e3e4e5;"></div>
<div class="b" style="left:164.73px;top:446px;width:6.8px;height:17.8px;background:#e3e4e5;"></div>
<div class="b" style="left:172.46px;top:446px;width:6.8px;height:17.8px;background:#e3e4e5;"></div>
<div class="b" style="left:180.19px;top:446px;width:6.8px;height:17.8px;background:#e3e4e5;"></div>
<div class="b" style="left:187.93px;top:442.6px;width:6.8px;height:21.2px;background:#e3e4e5;"></div>
<div class="b" style="left:195.66px;top:442.6px;width:6.8px;height:21.2px;background:#e3e4e5;"></div>
<div class="b" style="left:203.39px;top:442.6px;width:6.8px;height:21.2px;background:#e3e4e5;"></div>
<div class="b" style="left:211.12px;top:442.6px;width:6.8px;height:21.2px;background:#e3e4e5;"></div>
<div class="b" style="left:218.86px;top:442.6px;width:6.8px;height:21.2px;background:#e3e4e5;"></div>
<div class="b" style="left:226.59px;top:442.6px;width:6.8px;height:21.2px;background:#e3e4e5;"></div>
<div class="b" style="left:234.32px;top:442.6px;width:6.8px;height:21.2px;background:#e3e4e5;"></div>
<div class="b" style="left:242.06px;top:442.6px;width:6.8px;height:21.2px;background:#e3e4e5;"></div>
<div class="b" style="left:249.79px;top:441.9px;width:6.8px;height:21.9px;background:#e3e4e5;"></div>
<div class="b" style="left:257.52px;top:441.9px;width:6.8px;height:21.9px;background:#e3e4e5;"></div>
<div class="b" style="left:265.26px;top:440.5px;width:6.8px;height:23.3px;background:#e3e4e5;"></div>
<div class="b" style="left:272.99px;top:440.5px;width:6.8px;height:23.3px;background:#e3e4e5;"></div>
<div class="b" style="left:280.72px;top:440.5px;width:6.8px;height:23.3px;background:#e3e4e5;"></div>
<div class="b" style="left:288.45px;top:440.5px;width:6.8px;height:23.3px;background:#e3e4e5;"></div>
<div class="b" style="left:296.19px;top:440.5px;width:6.8px;height:23.3px;background:#e3e4e5;"></div>
<div class="b" style="left:303.92px;top:440.5px;width:6.8px;height:23.3px;background:#e3e4e5;"></div>
<div class="b" style="left:311.65px;top:437.8px;width:6.8px;height:26px;background:#e3e4e5;"></div>
<div class="b" style="left:319.39px;top:437.8px;width:6.8px;height:26px;background:#e3e4e5;"></div>
<div class="b" style="left:327.12px;top:437.8px;width:6.8px;height:26px;background:#e3e4e5;"></div>
<div class="b" style="left:334.85px;top:437.8px;width:6.8px;height:26px;background:#e3e4e5;"></div>
<div class="b" style="left:342.59px;top:437.8px;width:6.8px;height:26px;background:#0a73b6;"></div>
<div class="t" style="left:15.69px;top:473.07px;font-size:10.2px;line-height:10.2px;color:#4d5256;font-weight:400;letter-spacing:0.34px;">6.3 hours</div>
<div class="t" style="left:307.74px;top:473.07px;font-size:10.2px;line-height:10.2px;color:#4d5256;font-weight:400;letter-spacing:0.27px;">10.8 hours</div>
<div class="b" style="left:378.7px;top:362.6px;width:72.6px;height:11.4px;background:#e4e5e6;border-radius:6px;"></div>
<div class="b" style="left:531.2px;top:362.6px;width:20.1px;height:11.4px;background:#e4e5e6;border-radius:6px;"></div>
<div class="b" style="left:378.7px;top:380px;width:72.6px;height:11.8px;background:#e4e5e6;border-radius:6px;"></div>
<div class="b" style="left:531.2px;top:380px;width:20.1px;height:11.8px;background:#e4e5e6;border-radius:6px;"></div>
<div class="b" style="left:378.7px;top:397.5px;width:72.6px;height:11.8px;background:#e4e5e6;border-radius:6px;"></div>
<div class="b" style="left:531.2px;top:397.5px;width:20.1px;height:11.8px;background:#e4e5e6;border-radius:6px;"></div>
<div class="b" style="left:378.7px;top:420.3px;width:72.6px;height:11.9px;background:#e4e5e6;border-radius:6px;"></div>
<div class="b" style="left:509.5px;top:420.3px;width:41.8px;height:11.9px;background:#e4e5e6;border-radius:6px;"></div>
<div class="b" style="left:378.7px;top:437.9px;width:109.1px;height:11.8px;background:#e4e5e6;border-radius:6px;"></div>
<div class="b" style="left:509.5px;top:437.9px;width:41.8px;height:11.8px;background:#e4e5e6;border-radius:6px;"></div>
<div class="b" style="left:378.7px;top:453.9px;width:53.9px;height:12.1px;background:#d4d5d6;border-radius:6px;"></div>
<div class="b" style="left:509.5px;top:455px;width:41.8px;height:11.9px;background:#d4d5d6;border-radius:6px;"></div>
<div class="t" style="left:20.27px;top:546.14px;font-size:10.7px;line-height:10.7px;color:#53585c;font-weight:700;letter-spacing:0.66px;">OPTION 3</div>
<div class="t" style="left:20.22px;top:567.26px;font-size:16px;line-height:16px;color:#2d3236;font-weight:700;letter-spacing:1.5px;">80</div>
<div class="t" style="left:86.24px;top:567.26px;font-size:16px;line-height:16px;color:#2d3236;font-weight:700;letter-spacing:1.06px;">6.5</div>
<div class="t" style="left:20.49px;top:587.03px;font-size:10.6px;line-height:10.6px;color:#4d5256;font-weight:400;letter-spacing:-0.09px;">Total runs</div>
<div class="t" style="left:86.8px;top:587.03px;font-size:10.6px;line-height:10.6px;color:#4d5256;font-weight:400;letter-spacing:-0.01px;">Average worked hours</div>
<div class="b" style="left:343.6px;top:600.1px;width:6.8px;height:39.9px;background:#0a73b6;"></div>
<div class="b" style="left:335.87px;top:610.5px;width:6.8px;height:29.5px;background:#e3e4e5;"></div>
<div class="b" style="left:328.13px;top:610.5px;width:6.8px;height:29.5px;background:#e3e4e5;"></div>
<div class="b" style="left:320.4px;top:610.5px;width:6.8px;height:29.5px;background:#e3e4e5;"></div>
<div class="b" style="left:312.67px;top:610.5px;width:6.8px;height:29.5px;background:#e3e4e5;"></div>
<div class="b" style="left:379.3px;top:545.4px;width:72px;height:11.8px;background:#e4e5e6;border-radius:6px;"></div>
<div class="b" style="left:531.3px;top:545.4px;width:19.8px;height:11.8px;background:#e4e5e6;border-radius:6px;"></div>
<div class="b" style="left:379.3px;top:563.5px;width:72px;height:11.5px;background:#e4e5e6;border-radius:6px;"></div>
<div class="b" style="left:531.3px;top:563.5px;width:19.8px;height:11.5px;background:#e4e5e6;border-radius:6px;"></div>
<div class="b" style="left:379.3px;top:580.9px;width:72px;height:11.4px;background:#e4e5e6;border-radius:6px;"></div>
<div class="b" style="left:531.3px;top:580.9px;width:19.8px;height:11.4px;background:#e4e5e6;border-radius:6px;"></div>
<div class="b" style="left:379.3px;top:603.5px;width:72px;height:11.8px;background:#e4e5e6;border-radius:6px;"></div>
<div class="b" style="left:510.4px;top:603.5px;width:40.7px;height:11.8px;background:#e4e5e6;border-radius:6px;"></div>
</body></html>
